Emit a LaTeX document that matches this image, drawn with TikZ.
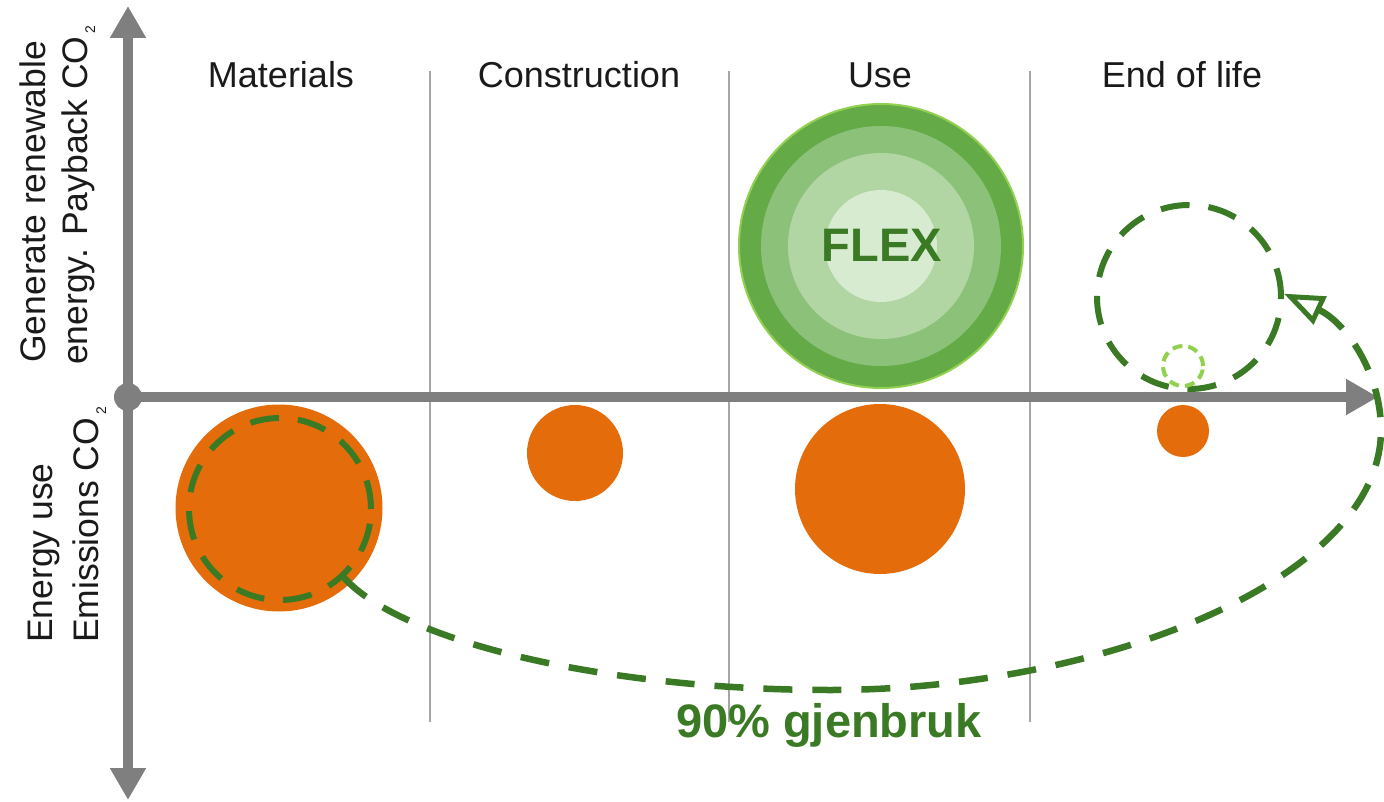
\documentclass[tikz,border=0pt]{standalone}
\usepackage{fontspec}
\setmainfont{Liberation Sans}
\usetikzlibrary{arrows.meta}
\definecolor{axisgray}{HTML}{7F7F7F}
\definecolor{divgray}{HTML}{A6A6A6}
\definecolor{orangeC}{HTML}{E46C0A}
\definecolor{dgreen}{HTML}{3A7A24}
\definecolor{lgreen}{HTML}{92D050}
\definecolor{ringA}{HTML}{64AB48}
\definecolor{ringB}{HTML}{8CC17A}
\definecolor{ringC}{HTML}{B1D6A3}
\definecolor{ringD}{HTML}{D6EBCF}
\definecolor{txt}{HTML}{1A1A1A}
\newcommand{\cosub}{CO\hspace{3pt}{\fontsize{14}{14}\selectfont\raisebox{-8pt}{2}}}
\begin{document}
\begin{tikzpicture}[x=1pt,y=-1pt,
  divider/.style={draw=divgray, line width=1.6pt},
  axisline/.style={draw=axisgray, line width=10pt},
  axtip/.style={-{Triangle[length=32pt,width=34pt]}},
  bubble/.style={circle, fill=orangeC, inner sep=0pt, outer sep=0pt},
  ring/.style={circle, inner sep=0pt, outer sep=0pt},
  dashring/.style={circle, inner sep=0pt, draw=dgreen, line width=6pt, dash pattern=on 29pt off 19pt},
  gdash/.style={draw=dgreen, line width=6.5pt, dash pattern=on 29pt off 20pt},
  header/.style={font=\fontsize{36}{40}\selectfont, text=txt, anchor=base, inner sep=0pt},
  vlabel/.style={font=\fontsize{35.5}{40}\selectfont, text=txt, rotate=90, anchor=base west, inner sep=0pt},
  bigtext/.style={font=\fontsize{47}{50}\selectfont\bfseries, text=dgreen, anchor=base, inner sep=0pt}
]
\useasboundingbox[fill=white] (0,0) rectangle (1384,802);

% dividers
\coordinate (d1t) at (430,71); \coordinate (d1b) at (430,722);
\coordinate (d2t) at (729,71); \coordinate (d2b) at (729,722);
\coordinate (d3t) at (1030,71); \coordinate (d3b) at (1030,722);
\draw[divider] (d1t) -- (d1b);
\draw[divider] (d2t) -- (d2b);
\draw[divider] (d3t) -- (d3b);

% headers
\node[header] (hMat) at (281,88) {Materials};
\node[header] (hCon) at (579,88) {Construction};
\node[header] (hUse) at (880,88) {Use};
\node[header] (hEol) at (1182,88) {End of life};

% axes
\node[circle, fill=axisgray, minimum size=28pt, inner sep=0pt] (origin) at (128,397) {};
\coordinate (xend) at (1378,397);
\coordinate (ytop) at (128,6);
\coordinate (ybot) at (128,800);
\draw[axisline, axtip] (origin.center) -- (xend);
\draw[axisline, {Triangle[length=32pt,width=34pt]}-{Triangle[length=32pt,width=34pt]}] (ybot) -- (ytop);

% axis labels
\node[vlabel] (lab1) at (45,363) {Generate renewable};
\node[vlabel] (lab2) at (87,365) {energy. Payback \cosub};
\node[vlabel] (lab3) at (52,643) {Energy use};
\node[vlabel] (lab4) at (98,643) {Emissions \cosub};

% orange bubbles
\node[bubble, minimum size=207pt] (matC) at (279,508) {};
\node[bubble, minimum size=96pt] (conC) at (575,453) {};
\node[bubble, minimum size=170pt] (useC) at (880,489) {};
\node[bubble, minimum size=52pt] (eolC) at (1183,431) {};

% FLEX
\node[ring, fill=ringA, draw=lgreen, line width=2pt, minimum size=284pt] (flexA) at (881,246) {};
\node[ring, fill=ringB, minimum size=240pt] (flexB) at (881,246) {};
\node[ring, fill=ringC, minimum size=186pt] (flexC) at (881,246) {};
\node[ring, fill=ringD, minimum size=112pt] (flexD) at (881,246) {};
\node[bigtext] (flexT) at (882,262) {FLEX};

% dashed circles
\node[dashring, minimum size=182pt] (matDash) at (280,509) {};
\node[dashring, minimum size=184pt] (eolDash) at (1189,297) {};
\node[circle, inner sep=0pt, draw=lgreen, line width=4pt, dash pattern=on 10pt off 6pt, minimum size=40pt] (eolSmall) at (1183,366) {};

% reuse loop
\draw[gdash, -{Triangle[open,length=40pt,width=30pt,line width=5pt]}]
  (matDash.-47) .. controls (400,640) and (600,690) .. (830,690)
  .. controls (1100,690) and (1381,580) .. (1381,430)
  .. controls (1381,372) and (1345,322) .. (eolDash.2);

\node[bigtext] (reuse) at (829,737) {90\% gjenbruk};
\end{tikzpicture}
\end{document}
